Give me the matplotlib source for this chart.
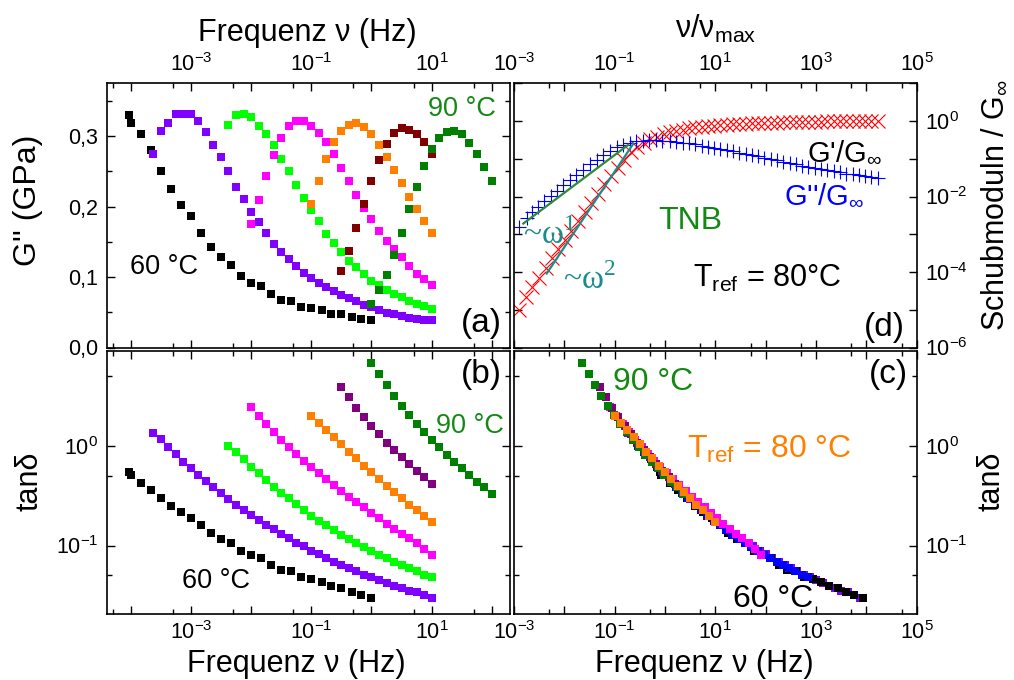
import numpy as np
import matplotlib
matplotlib.use('Agg')
import matplotlib.pyplot as plt
from matplotlib.ticker import LogLocator, FuncFormatter, MultipleLocator, NullLocator

plt.rcParams['font.family'] = ['Liberation Sans', 'DejaVu Sans']
plt.rcParams['mathtext.fontset'] = 'custom'
plt.rcParams['mathtext.rm'] = 'Liberation Sans'
plt.rcParams['mathtext.it'] = 'Liberation Sans:italic'
plt.rcParams['mathtext.bf'] = 'Liberation Sans:bold'

# --- measured runs, 60 ... 90 °C: log10(frequency / Hz), G'' (GPa), tan delta ---
lf_60 = [-4.03, -4.0, -3.83, -3.67, -3.5, -3.33, -3.17, -3.0, -2.83, -2.67, -2.5, -2.33, -2.17,
         -2.0, -1.83, -1.67, -1.5, -1.33, -1.17, -1.0, -0.83, -0.67, -0.5, -0.33, -0.17, 0.0]
lf_65 = [-3.625, -3.5, -3.375, -3.25, -3.125, -3.0, -2.875, -2.75, -2.625, -2.5, -2.375, -2.25,
         -2.125, -2.0, -1.875, -1.75, -1.625, -1.5, -1.375, -1.25, -1.125, -1.0, -0.875, -0.75,
         -0.625, -0.5, -0.375, -0.25, -0.125, 0.0, 0.125, 0.25, 0.375, 0.5, 0.625, 0.75, 0.875, 1.0]
lf_70 = [-2.375, -2.25, -2.125, -2.0, -1.875, -1.75, -1.625, -1.5, -1.375, -1.25, -1.125, -1.0,
         -0.875, -0.75, -0.625, -0.5, -0.375, -0.25, -0.125, 0.0, 0.125, 0.25, 0.375, 0.5, 0.625,
         0.75, 0.875, 1.0]
lf_75 = [-2.0, -1.875, -1.75, -1.625, -1.5, -1.375, -1.25, -1.125, -1.0, -0.875, -0.75, -0.625,
         -0.5, -0.375, -0.25, -0.125, 0.0, 0.125, 0.25, 0.375, 0.5, 0.625, 0.75, 0.875, 1.0]
lf_80 = [-1.0, -0.875, -0.75, -0.625, -0.5, -0.375, -0.25, -0.125, 0.0, 0.125, 0.25, 0.375, 0.5,
         0.625, 0.75, 0.875, 1.0]
lf_85 = [-0.5, -0.375, -0.25, -0.125, 0.0, 0.125, 0.25, 0.375, 0.5, 0.625, 0.75, 0.875, 1.0]
lf_90 = [0.0, 0.125, 0.25, 0.375, 0.5, 0.625, 0.75, 0.875, 1.0, 1.125, 1.25, 1.375, 1.5, 1.625,
         1.75, 1.875, 2.0]

g_60 = [0.330, 0.318, 0.303, 0.281, 0.250, 0.225, 0.202, 0.186, 0.162, 0.143, 0.128, 0.117, 0.102,
        0.092, 0.087, 0.076, 0.068, 0.066, 0.058, 0.056, 0.053, 0.048, 0.047, 0.044, 0.041, 0.039]
g_65 = [0.274, 0.307, 0.319, 0.332, 0.332, 0.332, 0.322, 0.306, 0.288, 0.270, 0.250, 0.228, 0.211,
        0.193, 0.178, 0.162, 0.147, 0.135, 0.125, 0.116, 0.106, 0.099, 0.092, 0.086, 0.080, 0.074,
        0.070, 0.066, 0.060, 0.057, 0.053, 0.049, 0.047, 0.045, 0.042, 0.041, 0.039, 0.039]
g_70 = [0.316, 0.330, 0.331, 0.327, 0.315, 0.303, 0.287, 0.267, 0.250, 0.231, 0.212, 0.195, 0.179,
        0.161, 0.148, 0.135, 0.123, 0.114, 0.104, 0.095, 0.089, 0.082, 0.076, 0.071, 0.066, 0.062,
        0.059, 0.055]
g_75 = [0.175, 0.210, 0.244, 0.273, 0.298, 0.314, 0.322, 0.322, 0.315, 0.305, 0.292, 0.275, 0.255,
        0.237, 0.217, 0.198, 0.182, 0.166, 0.151, 0.140, 0.128, 0.116, 0.105, 0.097, 0.089]
g_80 = [0.203, 0.236, 0.267, 0.291, 0.308, 0.316, 0.318, 0.313, 0.303, 0.288, 0.271, 0.252, 0.233,
        0.214, 0.197, 0.180, 0.163]
g_85 = [0.109, 0.137, 0.170, 0.204, 0.237, 0.266, 0.289, 0.304, 0.311, 0.309, 0.303, 0.292, 0.275]
g_90 = [0.062, 0.081, 0.103, 0.132, 0.162, 0.196, 0.228, 0.257, 0.282, 0.297, 0.306, 0.308, 0.303,
        0.290, 0.275, 0.256, 0.236]

tan_60 = [0.553, 0.512, 0.429, 0.362, 0.299, 0.252, 0.216, 0.188, 0.159, 0.135, 0.117, 0.106, 0.089,
          0.081, 0.075, 0.064, 0.057, 0.055, 0.048, 0.046, 0.043, 0.039, 0.037, 0.034, 0.032, 0.030]
tan_65 = [1.36, 1.166, 0.985, 0.831, 0.696, 0.597, 0.512, 0.449, 0.391, 0.340, 0.292, 0.256, 0.228,
          0.203, 0.181, 0.161, 0.146, 0.131, 0.119, 0.107, 0.098, 0.089, 0.082, 0.075, 0.069, 0.064,
          0.059, 0.055, 0.051, 0.048, 0.045, 0.042, 0.039, 0.037, 0.035, 0.034, 0.032, 0.030]
tan_70 = [1.0, 0.864, 0.741, 0.621, 0.532, 0.456, 0.391, 0.340, 0.299, 0.260, 0.228, 0.200, 0.177,
          0.159, 0.142, 0.128, 0.116, 0.106, 0.096, 0.089, 0.081, 0.075, 0.069, 0.064, 0.059, 0.055,
          0.051, 0.048]
tan_75 = [2.48, 2.015, 1.662, 1.382, 1.157, 0.977, 0.831, 0.713, 0.616, 0.532, 0.463, 0.403, 0.354,
          0.310, 0.272, 0.241, 0.213, 0.188, 0.166, 0.148, 0.132, 0.118, 0.105, 0.093, 0.081]
tan_80 = [2.0, 1.714, 1.447, 1.222, 1.039, 0.877, 0.752, 0.635, 0.544, 0.463, 0.397, 0.343, 0.299,
          0.256, 0.228, 0.199, 0.174]
tan_85 = [3.94, 3.08, 2.387, 1.94, 1.587, 1.309, 1.08, 0.912, 0.770, 0.655, 0.561, 0.485, 0.416]
tan_90 = [6.85, 5.27, 4.09, 3.20, 2.54, 2.046, 1.649, 1.371, 1.149, 0.970, 0.812, 0.696, 0.597,
          0.512, 0.439, 0.385, 0.330]

# log10 shift factors to T_ref = 80 °C
log_aT = {60: 3.93, 65: 2.88, 70: 1.84, 75: 0.91, 80: 0.0, 85: -0.8, 90: -1.64}

# --- normalised moduli vs nu/nu_max (panel d), log10 values ---
lf_gp = [-2.91, -2.77, -2.64, -2.50, -2.37, -2.25, -2.12, -1.99, -1.86, -1.72, -1.59, -1.47, -1.34,
         -1.21, -1.08, -0.94, -0.81, -0.68, -0.55, -0.42, -0.29, -0.16, -0.03, 0.1, 0.225, 0.35,
         0.475, 0.6, 0.725, 0.85, 0.975, 1.1, 1.225, 1.35, 1.475, 1.6, 1.725, 1.85, 1.975, 2.1,
         2.225, 2.35, 2.475, 2.6, 2.725, 2.85, 2.975, 3.1, 3.225, 3.35, 3.475, 3.6, 3.725, 3.85,
         3.975, 4.1, 4.225]
log_gp = [-5.0, -4.67, -4.40, -4.155, -3.89, -3.62, -3.40, -3.16, -2.91, -2.645, -2.42, -2.18, -1.93,
          -1.67, -1.45, -1.24, -1.03, -0.83, -0.70, -0.57, -0.48, -0.41, -0.35, -0.30, -0.26, -0.225,
          -0.195, -0.17, -0.15, -0.135, -0.12, -0.105, -0.095, -0.085, -0.078, -0.07, -0.063, -0.056,
          -0.05, -0.045, -0.04, -0.035, -0.031, -0.027, -0.024, -0.021, -0.018, -0.015, -0.012,
          -0.01, -0.008, -0.006, -0.004, -0.002, 0.0, 0.0, 0.005]
lf_gpp = [-2.91, -2.75, -2.64, -2.52, -2.40, -2.27, -2.15, -2.02, -1.89, -1.76, -1.62, -1.49, -1.36,
          -1.23, -1.10, -0.96, -0.83, -0.70, -0.57, -0.44, -0.31, -0.18, -0.05, 0.1, 0.225, 0.35,
          0.475, 0.6, 0.725, 0.85, 0.975, 1.1, 1.225, 1.35, 1.475, 1.6, 1.725, 1.85, 1.975, 2.1,
          2.225, 2.35, 2.475, 2.6, 2.725, 2.85, 2.975, 3.1, 3.225, 3.35, 3.475, 3.6, 3.725, 3.85,
          3.975, 4.1, 4.225]
log_gpp = [-2.82, -2.57, -2.42, -2.27, -2.13, -1.98, -1.85, -1.70, -1.56, -1.43, -1.30, -1.15, -1.03,
           -0.91, -0.80, -0.70, -0.63, -0.58, -0.54, -0.52, -0.51, -0.51, -0.52, -0.535, -0.55,
           -0.57, -0.595, -0.62, -0.65, -0.68, -0.71, -0.74, -0.77, -0.80, -0.835, -0.87, -0.90,
           -0.935, -0.97, -1.005, -1.04, -1.075, -1.11, -1.145, -1.18, -1.21, -1.24, -1.27, -1.30,
           -1.33, -1.36, -1.39, -1.415, -1.44, -1.465, -1.49, -1.51]

# power-law guides: (log10 x start, log10 x end, prefactor, exponent)
fit_w1 = (-2.815, -0.73, 1.256, 1)
fit_w2 = (-2.35, -0.63, 4.57, 2)

temps = [60, 65, 70, 75, 80, 85, 90]
lfs = dict(zip(temps, [lf_60, lf_65, lf_70, lf_75, lf_80, lf_85, lf_90]))
gpp = dict(zip(temps, [g_60, g_65, g_70, g_75, g_80, g_85, g_90]))
tans = dict(zip(temps, [tan_60, tan_65, tan_70, tan_75, tan_80, tan_85, tan_90]))
col_a = {60: 'k', 65: '#8000FF', 70: '#00FF00', 75: '#FF00FF', 80: '#FF8000', 85: '#800000', 90: '#008000'}
col_b = dict(col_a)
col_b[85] = '#800080'
col_c = dict(col_b)
col_c[70] = '#0000FF'
order_c = [65, 60, 70, 75, 85, 90, 80]

green_txt = '#138913'
teal = '#1A8C8C'

fig = plt.figure(figsize=(10.14, 6.8), dpi=100)
W, H = 1014.0, 680.0


def box(x0, y0, x1, y1):
    return [x0 / W, 1 - y1 / H, (x1 - x0) / W, (y1 - y0) / H]


ax_a = fig.add_axes(box(106.7, 83.3, 510, 347.5))
ax_d = fig.add_axes(box(514, 83.3, 916.7, 347.5))
ax_b = fig.add_axes(box(106.7, 351, 510, 614))
ax_c = fig.add_axes(box(514, 351, 916.7, 614))


def dec_fmt(keep):
    def f(v, pos):
        e = int(round(np.log10(v)))
        return r'$\mathregular{10^{%d}}$' % e if keep(e) else ''
    return FuncFormatter(f)


odd = lambda e: e % 2 == 1
even = lambda e: e % 2 == 0
every = lambda e: True


def log_axis(axis, keep, minor=True):
    axis.set_major_locator(LogLocator(base=10, numticks=40))
    if minor:
        axis.set_minor_locator(LogLocator(base=10, subs=(5,), numticks=40))
    else:
        axis.set_minor_locator(NullLocator())
    axis.set_major_formatter(dec_fmt(keep))


for ax in (ax_a, ax_b, ax_c, ax_d):
    for s in ax.spines.values():
        s.set_linewidth(1.2)
    ax.tick_params(which='both', direction='in', top=True, right=True, width=1.0, labelsize=15.5)
    ax.tick_params(which='major', length=6)
    ax.tick_params(which='minor', length=3.5)

# (a) G'' vs frequency
for t in temps:
    ax_a.plot(10 ** np.array(lfs[t]), gpp[t], 's', color=col_a[t], ms=5.5, mew=0)
ax_a.set_xscale('log')
ax_a.set_xlim(4e-5, 200)
ax_a.set_ylim(0, 0.375)
log_axis(ax_a.xaxis, odd)
ax_a.yaxis.set_major_locator(MultipleLocator(0.1))
ax_a.yaxis.set_minor_locator(MultipleLocator(0.05))
ax_a.yaxis.set_major_formatter(FuncFormatter(lambda v, p: ('%.1f' % v).replace('.', ',')))
ax_a.tick_params(labelbottom=False, labeltop=True, pad=5)
ax_a.tick_params(axis='y', pad=6)
ax_a.text(0.142, 0.305, '60 °C', transform=ax_a.transAxes, fontsize=19.5, ha='center', va='center')
ax_a.text(0.88, 0.903, '90 °C', transform=ax_a.transAxes, fontsize=19.5, ha='center', va='center',
          color=green_txt)
ax_a.text(0.93, 0.09, '(a)', transform=ax_a.transAxes, fontsize=24, ha='center', va='center')

# (b) tan delta vs frequency
for t in temps:
    ax_b.plot(10 ** np.array(lfs[t]), tans[t], 's', color=col_b[t], ms=5.5, mew=0)
ax_b.set_xscale('log')
ax_b.set_yscale('log')
ax_b.set_xlim(4e-5, 200)
ax_b.set_ylim(0.0205, 9)
log_axis(ax_b.xaxis, odd)
log_axis(ax_b.yaxis, every)
ax_b.tick_params(axis='x', pad=5)
ax_b.tick_params(axis='y', pad=6)
ax_b.text(0.271, 0.125, '60 °C', transform=ax_b.transAxes, fontsize=19.5, ha='center', va='center')
ax_b.text(0.9, 0.715, '90 °C', transform=ax_b.transAxes, fontsize=19.5, ha='center', va='center',
          color=green_txt)
ax_b.text(0.93, 0.91, '(b)', transform=ax_b.transAxes, fontsize=24, ha='center', va='center')

# (c) master curve of tan delta
for t in order_c:
    ax_c.plot(10 ** (np.array(lfs[t]) + log_aT[t]), tans[t], 's', color=col_c[t], ms=6, mew=0)
ax_c.set_xscale('log')
ax_c.set_yscale('log')
ax_c.set_xlim(1e-3, 1e5)
ax_c.set_ylim(0.0205, 9)
log_axis(ax_c.xaxis, odd)
log_axis(ax_c.yaxis, every)
ax_c.tick_params(labelleft=False, labelright=True)
ax_c.tick_params(axis='x', pad=5)
ax_c.tick_params(axis='y', pad=6)
ax_c.text(0.246, 0.882, '90 °C', transform=ax_c.transAxes, fontsize=23, va='center', color=green_txt)
ax_c.text(0.43, 0.624, r'T$_\mathregular{ref}$ = 80 °C', transform=ax_c.transAxes, fontsize=23,
          va='center', color='#FF8000')
ax_c.text(0.544, 0.057, '60 °C', transform=ax_c.transAxes, fontsize=23, va='center')
ax_c.text(0.93, 0.91, '(c)', transform=ax_c.transAxes, fontsize=24, ha='center', va='center')

# (d) normalised moduli
ax_d.plot(10 ** np.array(lf_gp), 10 ** np.array(log_gp), 'x', color='#FF0000', ms=10, mew=0.8)
ax_d.plot(10 ** np.array(lf_gpp), 10 ** np.array(log_gpp), '+', color='#0000FF', ms=10, mew=0.8)
for lo, hi, amp, n, c in [fit_w1 + ('#2E8B2E',), fit_w2 + (teal,)]:
    xs = 10 ** np.array([lo, hi])
    ax_d.plot(xs, amp * xs ** n, '-', color=c, lw=1.6)
ax_d.set_xscale('log')
ax_d.set_yscale('log')
ax_d.set_xlim(1e-3, 1e5)
ax_d.set_ylim(1e-6, 10)
log_axis(ax_d.xaxis, odd)
log_axis(ax_d.yaxis, even, minor=False)
ax_d.tick_params(labelbottom=False, labeltop=True, labelleft=False, labelright=True)
ax_d.tick_params(axis='x', pad=5)
ax_d.tick_params(axis='y', pad=6)
ax_d.text(0.914, 0.74, r"G'/G$_\mathregular{\infty}$", transform=ax_d.transAxes, fontsize=21,
          ha='right', va='center')
ax_d.text(0.87, 0.577, r"G''/G$_\mathregular{\infty}$", transform=ax_d.transAxes, fontsize=21,
          ha='right', va='center', color='#0000FF')
ax_d.text(0.437, 0.479, 'TNB', transform=ax_d.transAxes, fontsize=23, ha='center', va='center',
          color=green_txt)
ax_d.text(0.022, 0.43, r'~ω$^\mathregular{1}$', transform=ax_d.transAxes, fontsize=24, va='center',
          color=teal, family='Liberation Serif')
ax_d.text(0.122, 0.26, r'~ω$^\mathregular{2}$', transform=ax_d.transAxes, fontsize=24, va='center',
          color=teal, family='Liberation Serif')
ax_d.text(0.445, 0.263, r'T$_\mathregular{ref}$ = 80°C', transform=ax_d.transAxes, fontsize=22,
          va='center')
ax_d.text(0.92, 0.075, '(d)', transform=ax_d.transAxes, fontsize=24, ha='center', va='center')

# axis titles
fig.text(307 / W, 1 - 33 / H, 'Frequenz ν (Hz)', fontsize=22, ha='center', va='center')
fig.text(716 / W, 1 - 29 / H, r'ν/ν$_\mathregular{max}$', fontsize=22, ha='center', va='center')
fig.text(296 / W, 1 - 664 / H, 'Frequenz ν (Hz)', fontsize=22, ha='center', va='center')
fig.text(704 / W, 1 - 664 / H, 'Frequenz ν (Hz)', fontsize=22, ha='center', va='center')
fig.text(28 / W, 1 - 200 / H, "G'' (GPa)", fontsize=23, rotation=90, ha='center', va='center')
fig.text(30 / W, 1 - 481 / H, 'tanδ', fontsize=22, rotation=90, ha='center', va='center')
fig.text(995 / W, 1 - 205 / H, r'Schubmoduln / G$_\mathregular{\infty}$', fontsize=22, rotation=90,
         ha='center', va='center')
fig.text(992 / W, 1 - 481 / H, 'tanδ', fontsize=22, rotation=90, ha='center', va='center')

fig.savefig('out.png', dpi=100)
